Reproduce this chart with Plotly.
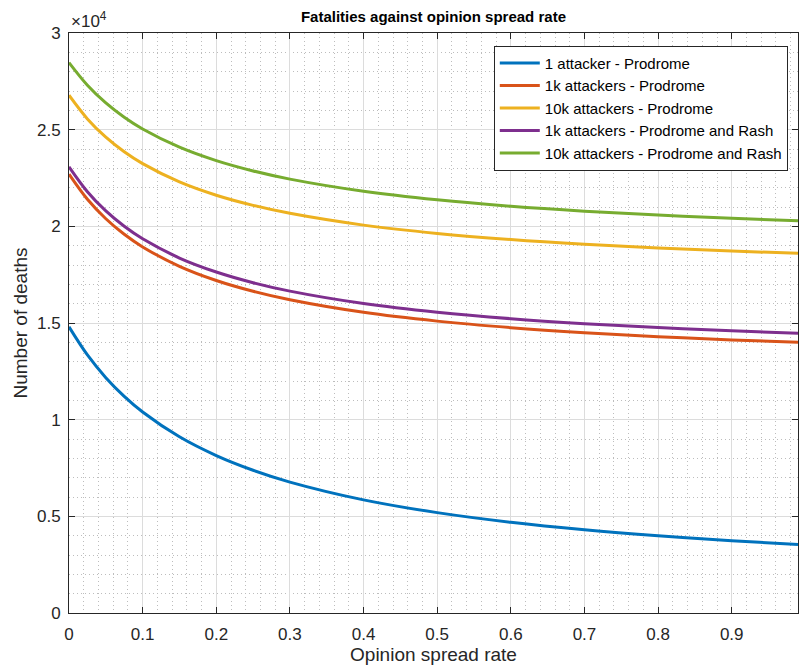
import plotly.graph_objects as go

# Opinion spread rate (x)
rate = [0.0, 0.025, 0.05, 0.075, 0.1, 0.15, 0.2, 0.25, 0.3, 0.4, 0.5, 0.6, 0.7, 0.8, 0.9, 0.99]

# Number of deaths per scenario
one_prodrome      = [14800, 13347, 12174, 11206, 10396, 9112, 8142, 7382, 6772, 5852, 5191, 4693, 4305, 3994, 3739, 3545]
k1_prodrome       = [22700, 21398, 20391, 19589, 18935, 17932, 17199, 16641, 16201, 15552, 15097, 14760, 14500, 14294, 14126, 14000]
k10_prodrome      = [26780, 25557, 24610, 23856, 23241, 22299, 21610, 21086, 20672, 20063, 19635, 19318, 19074, 18880, 18722, 18604]
k1_prodrome_rash  = [23080, 21792, 20795, 20001, 19354, 18361, 17637, 17084, 16649, 16007, 15556, 15223, 14966, 14762, 14596, 14471]
k10_prodrome_rash = [28470, 27300, 26382, 25643, 25035, 24094, 23399, 22865, 22442, 21814, 21371, 21040, 20785, 20582, 20416, 20291]

series = [
    ("1 attacker - Prodrome", one_prodrome, "#0072BD"),
    ("1k attackers - Prodrome", k1_prodrome, "#D95319"),
    ("10k attackers - Prodrome", k10_prodrome, "#EDB120"),
    ("1k attackers - Prodrome and Rash", k1_prodrome_rash, "#7E2F8E"),
    ("10k attackers - Prodrome and Rash", k10_prodrome_rash, "#77AC30"),
]

x_ticks = [0, 0.1, 0.2, 0.3, 0.4, 0.5, 0.6, 0.7, 0.8, 0.9]
x_tick_text = ["0", "0.1", "0.2", "0.3", "0.4", "0.5", "0.6", "0.7", "0.8", "0.9"]
y_ticks = [0, 5000, 10000, 15000, 20000, 25000, 30000]
y_tick_text = ["0", "0.5", "1", "1.5", "2", "2.5", "3"]

fig = go.Figure()
for name, vals, color in series:
    fig.add_trace(go.Scatter(
        x=rate, y=vals, mode="lines", name=name,
        line=dict(color=color, width=3, shape="spline", smoothing=1.0),
    ))

font_family = "Liberation Sans, Arial, Helvetica, sans-serif"
axis_color = "#262626"

fig.update_layout(
    width=799, height=666,
    margin=dict(l=69, r=1, t=33, b=53),
    paper_bgcolor="white", plot_bgcolor="white",
    font=dict(family=font_family, size=17, color=axis_color),
    title=dict(text="<b>Fatalities against opinion spread rate</b>",
               x=0.5425, xanchor="center", y=0.975, yanchor="middle",
               font=dict(size=15, color="black")),
    showlegend=True,
    legend=dict(x=0.986, xanchor="right", y=0.978, yanchor="top",
                bgcolor="white", bordercolor="#262626", borderwidth=1,
                font=dict(size=15, color="black"), tracegroupgap=0,
                itemwidth=40),
)

fig.update_xaxes(
    range=[0, 0.99], tickvals=x_ticks, ticktext=x_tick_text,
    showline=True, linecolor=axis_color, linewidth=1, mirror="ticks",
    ticks="inside", ticklen=6, tickcolor=axis_color,
    showgrid=True, gridcolor="#dcdcdc", gridwidth=1,
    minor=dict(dtick=0.02, showgrid=True, gridcolor="#bdbdbd", griddash="1px,3px", gridwidth=1),
    zeroline=False,
    ticklabelstandoff=6,
    title=dict(text="Opinion spread rate", font=dict(size=19), standoff=4),
    tickfont=dict(size=17),
)
fig.update_yaxes(
    range=[0, 30000], tickvals=y_ticks, ticktext=y_tick_text,
    showline=True, linecolor=axis_color, linewidth=1, mirror="ticks",
    ticks="inside", ticklen=6, tickcolor=axis_color,
    showgrid=True, gridcolor="#dcdcdc", gridwidth=1,
    minor=dict(dtick=1000, showgrid=True, gridcolor="#bdbdbd", griddash="1px,3px", gridwidth=1),
    zeroline=False,
    ticklabelstandoff=4,
    title=dict(text="Number of deaths", font=dict(size=19), standoff=4),
    tickfont=dict(size=17),
)

fig.add_annotation(
    text="×10<sup>4</sup>", xref="paper", yref="paper", x=0, y=1,
    xanchor="left", yanchor="bottom", showarrow=False, yshift=0,
    font=dict(size=17, color=axis_color),
)

fig.write_html("out.html")
